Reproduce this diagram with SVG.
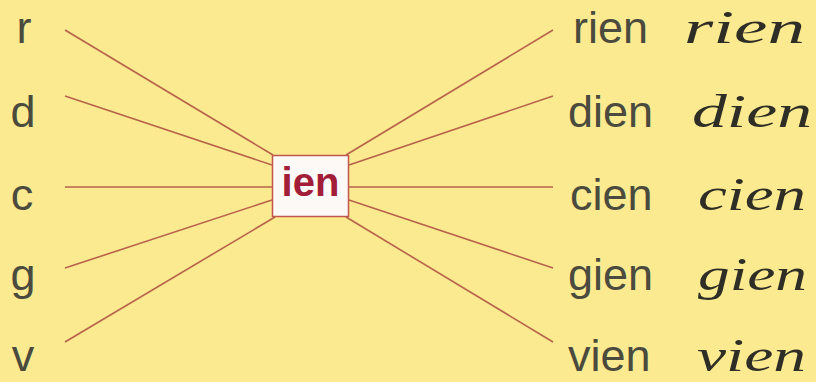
<svg xmlns="http://www.w3.org/2000/svg" width="816" height="382" viewBox="0 0 816 382">
<style>
.bg{fill:#fbea8f}
.ln{stroke:#b8624c;stroke-width:1.6;fill:none}
.lt{font-family:"Liberation Sans",Arial,sans-serif;font-size:45px;fill:#4a4a3e;text-anchor:middle}
.pw{font-family:"Liberation Sans",Arial,sans-serif;font-size:45px;fill:#4a4a3e}
.cw{font-family:"Liberation Serif","DejaVu Serif",serif;font-style:italic;font-size:47px;fill:#2e2e26}
.box{fill:#fdf9f6;stroke:#c2554e;stroke-width:1.5}
.ien{font-family:"Liberation Sans",Arial,sans-serif;font-weight:bold;font-size:40px;fill:#a21d38;text-anchor:middle}
</style>
<rect class="bg" x="0" y="0" width="816" height="382"/>
<g id="connectors">
<line class="ln" x1="65" y1="30" x2="273" y2="155"/>
<line class="ln" x1="65" y1="96" x2="272" y2="165"/>
<line class="ln" x1="65" y1="187" x2="272" y2="187"/>
<line class="ln" x1="65" y1="268" x2="272" y2="200"/>
<line class="ln" x1="65" y1="342" x2="275" y2="217"/>
<line class="ln" x1="346" y1="155" x2="553" y2="30"/>
<line class="ln" x1="349" y1="165" x2="553" y2="96"/>
<line class="ln" x1="349" y1="187" x2="553" y2="187"/>
<line class="ln" x1="349" y1="200" x2="553" y2="268"/>
<line class="ln" x1="346" y1="217" x2="553" y2="342"/>
</g>
<g id="center">
<rect class="box" x="272.5" y="155.5" width="76" height="61"/>
<text class="ien" x="310.5" y="196">ien</text>
</g>
<g id="left-r"><text class="lt" x="24" y="43">r</text></g>
<g id="left-d"><text class="lt" x="23" y="127">d</text></g>
<g id="left-c"><text class="lt" x="22" y="210">c</text></g>
<g id="left-g"><text class="lt" x="23" y="290">g</text></g>
<g id="left-v"><text class="lt" x="23" y="371">v</text></g>
<g id="right-rien"><text class="pw" x="573" y="43">rien</text><text class="cw" x="684" y="43" textLength="121" lengthAdjust="spacingAndGlyphs">rien</text></g>
<g id="right-dien"><text class="pw" x="568" y="127">dien</text><text class="cw" x="692" y="127" textLength="120" lengthAdjust="spacingAndGlyphs">dien</text></g>
<g id="right-cien"><text class="pw" x="570" y="210">cien</text><text class="cw" x="698" y="210" textLength="108" lengthAdjust="spacingAndGlyphs">cien</text></g>
<g id="right-gien"><text class="pw" x="568" y="290">gien</text><text class="cw" x="698" y="290" textLength="109" lengthAdjust="spacingAndGlyphs">gien</text></g>
<g id="right-vien"><text class="pw" x="568" y="371">vien</text><text class="cw" x="697" y="371" textLength="109" lengthAdjust="spacingAndGlyphs">vien</text></g>
</svg>
